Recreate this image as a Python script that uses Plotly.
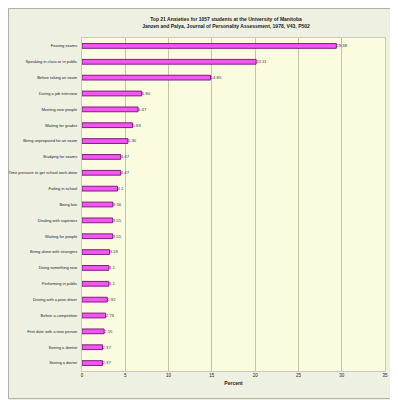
import plotly.graph_objects as go

categories = [
    "Fearing exams", "Speaking in class or in public", "Before taking an exam",
    "During a job interview", "Meeting new people", "Waiting for grades",
    "Being unprepared for an exam", "Studying for exams",
    "Time pressure to get school work done", "Failing in school", "Being late",
    "Dealing with superiors", "Waiting for people", "Being alone with strangers",
    "Doing something new", "Performing in public", "Driving with a poor driver",
    "Before a competition", "First date with a new person", "Seeing a dentist",
    "Seeing a doctor",
]
values = [29.38, 20.11, 14.85, 6.90, 6.47, 5.83, 5.30, 4.47, 4.47, 4.1, 3.56,
          3.55, 3.55, 3.18, 3.1, 3.1, 2.92, 2.73, 2.55, 2.37, 2.37]
value_labels = ["29.38", "20.11", "14.85", "6.90", "6.47", "5.83", "5.30", "4.47",
                "4.47", "4.1", "3.56", "3.55", "3.55", "3.18", "3.1", "3.1", "2.92",
                "2.73", "2.55", "2.37", "2.37"]
x_ticks = [0, 5, 10, 15, 20, 25, 30, 35]

# page body has an 8px default margin; figure sized to fit the 398x400 window
W, H = 390, 392
L, R, T, B = 74, 13, 30, 29
PW, PH = W - L - R, H - T - B

fig = go.Figure(go.Bar(
    x=values, y=categories, orientation="h",
    marker=dict(color="#F555F0", line=dict(color="#7A2080", width=1)),
    width=0.3,
    text=value_labels, textposition="outside",
    textfont=dict(size=4.5, color="#333333", family="Liberation Sans"),
    cliponaxis=False,
))

fig.update_layout(
    width=W, height=H,
    margin=dict(l=L, r=R, t=T, b=B, autoexpand=False),
    paper_bgcolor="#EEF0E2",
    plot_bgcolor="#FBFCDF",
    showlegend=False,
    font=dict(family="Liberation Sans", size=4, color="#222222"),
    title=dict(
        text="<b>Top 21 Anxieties for 1057 students at the University of Manitoba<br>"
             "Janzen and Palya, Journal of Personality Assessment, 1978, V43, P502</b>",
        x=218 / W, xanchor="center", y=1 - 13 / H, yanchor="middle",
        font=dict(size=5, color="#222222", family="Liberation Sans"),
    ),
    xaxis=dict(
        range=[0, 35], tickvals=x_ticks, ticktext=[str(t) for t in x_ticks],
        showgrid=True, gridcolor="#C4C4A0", gridwidth=1, automargin=False,
        zeroline=False, showline=True, linecolor="#C8C8C0", mirror=True,
        tickfont=dict(size=4.5), ticks="",
        title=dict(text="<b>Percent</b>", font=dict(size=5), standoff=4),
    ),
    yaxis=dict(
        autorange="reversed", showgrid=False, showline=True, linecolor="#C8C8C0",
        mirror=True, ticks="", tickfont=dict(size=4), ticklabelstandoff=3,
        automargin=False,
    ),
    shapes=[
        dict(type="rect", xref="paper", yref="paper",
             x0=-(L - 0.5) / PW, x1=1 + (R - 1.5) / PW,
             y0=-(B - 1.5) / PH, y1=1 + (T - 0.5) / PH,
             line=dict(color="#B0B0A8", width=1), layer="below"),
    ],
)

fig.write_html("out.html")
